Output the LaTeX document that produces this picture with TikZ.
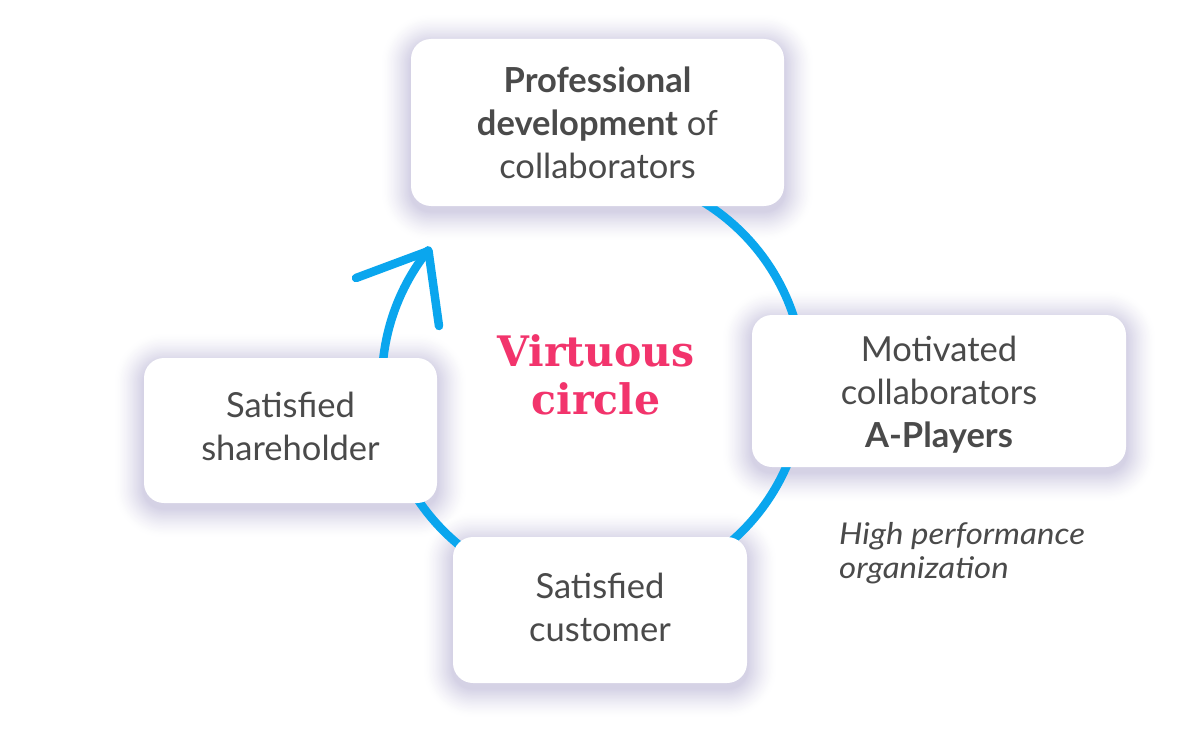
\documentclass[tikz,border=0pt]{standalone}
\usepackage{fontspec}
\setmainfont{Lato}
\newfontfamily\slabfont[FakeStretch=0.975]{DejaVu Serif}
\newfontfamily\noteitfont[FakeStretch=1.1]{Lato Italic}
\definecolor{txt}{HTML}{4A4A4A}
\definecolor{arcblue}{HTML}{0AA6EE}
\definecolor{vpink}{HTML}{F2346C}
\definecolor{shadeedge}{HTML}{D2CFE4}
\newcommand{\softshadow}[4]{%
  \foreach \k in {24,...,1}{%
    \pgfmathsetmacro{\rr}{20+\k*1.2}%
    \pgfmathsetmacro{\ee}{\k*1.2}%
    \pgfmathtruncatemacro{\pp}{100*(1-\k/25)^1.4}%
    \fill[shadeedge!\pp!white, rounded corners=\rr pt]
      ({#1-\ee},{#2-\ee+5}) rectangle ({#3+\ee},{#4+\ee+5});
  }}
\tikzset{
  card/.style={fill=white, rounded corners=20pt, inner sep=0pt},
  cardtext/.style={inner sep=0pt, align=center,
    font=\fontsize{34.5}{43}\selectfont, text=txt},
  loopline/.style={draw=arcblue, line width=8.5pt, line cap=round, line join=round}
}
\begin{document}
\begin{tikzpicture}[x=1pt, y=-1pt]
\fill[white] (0,0) rectangle (1200,752);
\useasboundingbox (0,0) rectangle (1200,752);
% shadows
\softshadow{411}{39}{784}{206}
\softshadow{752}{315}{1126}{467}
\softshadow{144}{358}{437}{503}
\softshadow{453}{537}{747}{683}
% cycle arc with open arrow head
\coordinate (tip) at (428.5,251);
\coordinate (armA) at (356,278);
\coordinate (armB) at (439,326);
\draw[loopline] (593,171) arc[start angle=-90, end angle=218.6, radius=211];
\draw[loopline] (armA) -- (tip) -- (armB);
% cards
\node[card, minimum width=373pt, minimum height=167pt] (prof) at (597.5,122.5) {};
\node[card, minimum width=374pt, minimum height=152pt] (moti) at (939,391) {};
\node[card, minimum width=293pt, minimum height=145pt] (share) at (290.5,430.5) {};
\node[card, minimum width=294pt, minimum height=146pt] (cust) at (600,610) {};
% card texts
\node[cardtext] (profT) at (597.5,122.5)
  {\textbf{Professional}\\\textbf{development} of\\collaborators};
\node[cardtext] (motiT) at (939,394.5)
  {Motivated\\collaborators\\\textbf{A-Players}};
\node[cardtext] (shareT) at (290.5,426.5) {Satisfied\\shareholder};
\node[cardtext] (custT) at (600,607) {Satisfied\\customer};
% centre title
\node[align=center, text=vpink, inner sep=0pt,
  font=\slabfont\bfseries\fontsize{42}{48}\selectfont] (title) at (596,375)
  {Virtuous\\circle};
% side note
\node[anchor=north west, align=left, inner sep=0pt, text=txt,
  font=\noteitfont\fontsize{30}{34}\selectfont] (hpo) at (839,522)
  {High performance\\organization};
\end{tikzpicture}
\end{document}
